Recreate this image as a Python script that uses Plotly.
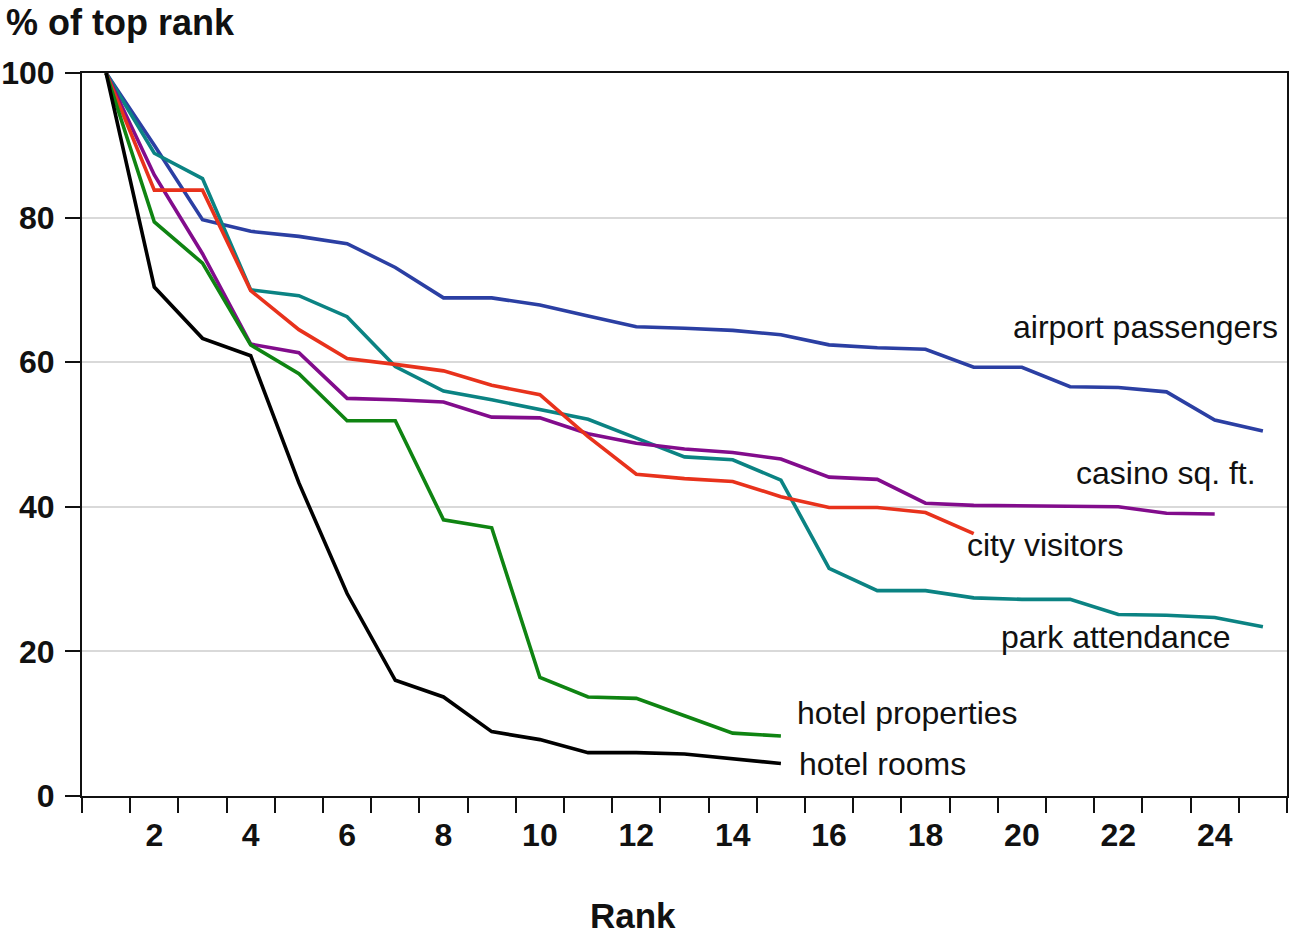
import plotly.graph_objects as go

ranks_airport = list(range(1, 26))
airport = [100, 90.0, 79.7, 78.1, 77.4, 76.4, 73.1, 68.9, 68.9, 67.9, 66.4, 64.9, 64.7, 64.4, 63.8,
           62.4, 62.0, 61.8, 59.3, 59.3, 56.6, 56.5, 55.9, 52.0, 50.5]

ranks_park = list(range(1, 26))
park = [100, 88.9, 85.4, 70.0, 69.2, 66.3, 59.4, 56.0, 54.8, 53.5, 52.1, 49.5, 46.9, 46.5, 43.7,
        31.5, 28.4, 28.4, 27.4, 27.2, 27.2, 25.1, 25.0, 24.7, 23.4]

ranks_casino = list(range(1, 25))
casino = [100, 85.9, 75.0, 62.5, 61.3, 55.0, 54.8, 54.5, 52.4, 52.3, 50.1, 48.8, 48.0, 47.5, 46.6,
          44.1, 43.8, 40.5, 40.2, 40.1, 40.0, 40.0, 39.1, 39.0]

ranks_city = list(range(1, 20))
city = [100, 83.8, 83.8, 69.9, 64.5, 60.5, 59.7, 58.8, 56.8, 55.5, 49.7, 44.5, 43.9, 43.5, 41.4,
        39.9, 39.9, 39.2, 36.3]

ranks_hprop = list(range(1, 16))
hotel_properties = [100, 79.4, 73.7, 62.4, 58.4, 51.9, 51.9, 38.2, 37.1, 16.4, 13.7, 13.5, 11.1, 8.7, 8.3]

ranks_hrooms = list(range(1, 16))
hotel_rooms = [100, 70.4, 63.3, 60.9, 43.3, 28.0, 16.0, 13.7, 8.9, 7.8, 6.0, 6.0, 5.8, 5.2, 4.5]

x_tick_vals = list(range(2, 25, 2))
y_tick_vals = [0, 20, 40, 60, 80, 100]

series = [
    ("airport passengers", ranks_airport, airport, "#2b3fa3"),
    ("park attendance", ranks_park, park, "#0b8383"),
    ("casino sq. ft.", ranks_casino, casino, "#820c8c"),
    ("city visitors", ranks_city, city, "#e8321c"),
    ("hotel properties", ranks_hprop, hotel_properties, "#0f8412"),
    ("hotel rooms", ranks_hrooms, hotel_rooms, "#000000"),
]

FONT = "Liberation Sans, Arial, sans-serif"

W, H = 1292, 942
L, T, R, B = 82, 73, 5, 146
PW = W - L - R
PH = H - T - B

def px_x(px):
    return (px - L) / PW

def px_y(py):
    return (H - B - py) / PH

fig = go.Figure()
for name, xs, ys, col in series:
    fig.add_trace(go.Scatter(x=xs, y=ys, mode="lines", name=name,
                             line=dict(color=col, width=3.6), showlegend=False))

labels = [
    ("airport passengers", 25.35, 64.9, "right"),
    ("casino sq. ft.", 24.9, 44.7, "right"),
    ("city visitors", 18.82, 34.7, "left"),
    ("park attendance", 19.52, 22.0, "left"),
    ("hotel properties", 15.29, 11.5, "left"),
    ("hotel rooms", 15.33, 4.4, "left"),
]
for txt, lx, ly, anc in labels:
    fig.add_annotation(x=lx, y=ly, xref="x", yref="y", text=txt, showarrow=False,
                       xanchor=anc, yanchor="middle",
                       font=dict(family=FONT, size=32, color="#111111"))

fig.add_annotation(x=px_x(633), y=px_y(915), xref="paper", yref="paper",
                   text="<b>Rank</b>", showarrow=False, xanchor="center", yanchor="middle",
                   font=dict(family=FONT, size=35, color="#111111"))

fig.add_annotation(x=px_x(4), y=px_y(22), xref="paper", yref="paper",
                   text="<b>% of top rank</b>", showarrow=False, xanchor="left", yanchor="middle",
                   font=dict(family=FONT, size=36, color="#111111"))

fig.update_layout(
    width=W, height=H,
    margin=dict(l=L, r=R, t=T, b=B),
    paper_bgcolor="white", plot_bgcolor="white",
    font=dict(family=FONT, color="#111111"),
)

fig.update_xaxes(
    range=[0.5, 25.5], showgrid=False, zeroline=False, automargin=False,
    showline=True, linecolor="#111111", linewidth=2, mirror=True,
    tickmode="array", tickvals=x_tick_vals, ticktext=[str(v) for v in x_tick_vals],
    ticks="outside", ticklen=15, tickcolor="rgba(0,0,0,0)", ticklabelstandoff=-5,
    tickfont=dict(family=FONT, size=32, color="#111111", weight="bold"),
    minor=dict(tick0=0.5, dtick=1, ticks="outside", ticklen=15, tickwidth=2,
               tickcolor="#111111", showgrid=False),
)
fig.update_yaxes(
    range=[0, 100], showgrid=True, gridcolor="#d9d9d9", gridwidth=2, zeroline=False,
    automargin=False,
    showline=True, linecolor="#111111", linewidth=2, mirror=True,
    tickmode="array", tickvals=y_tick_vals,
    ticks="outside", ticklen=15, tickwidth=2, tickcolor="#111111", ticklabelstandoff=4,
    tickfont=dict(family=FONT, size=32, color="#111111", weight="bold"),
)

fig.write_html("out.html",
               config={"displayModeBar": False},
               post_script="document.body.style.margin='0';document.body.style.overflow='hidden';")
